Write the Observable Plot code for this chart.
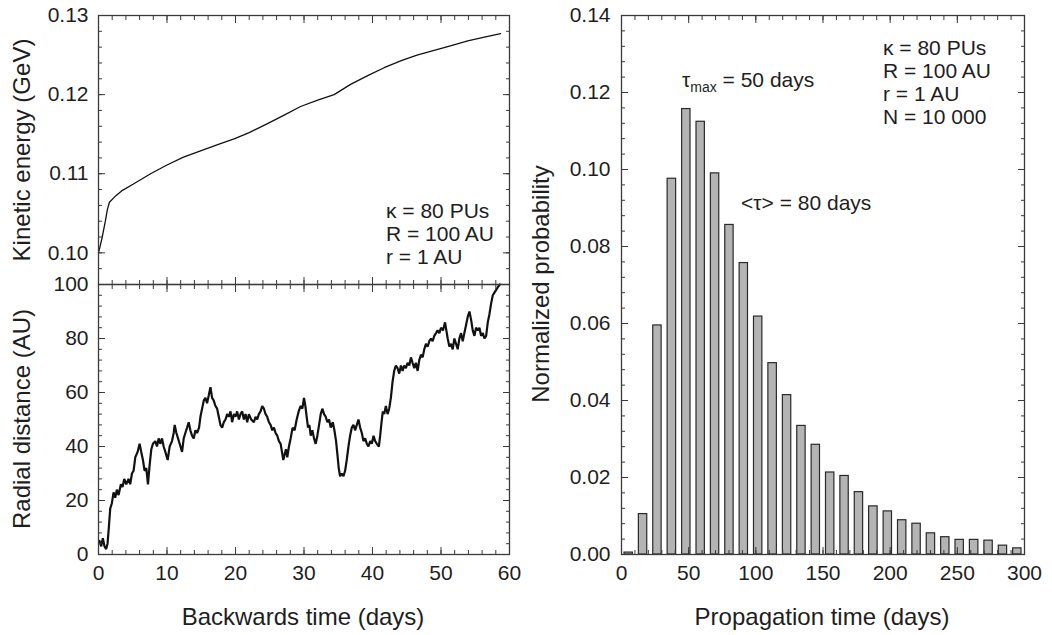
<!DOCTYPE html>
<html><head><meta charset="utf-8">
<script src="https://cdn.jsdelivr.net/npm/d3@7"></script>
<script src="https://cdn.jsdelivr.net/npm/@observablehq/plot@0.6"></script>
<style>
body{margin:0;background:#fff;}
#root{position:relative;width:1052px;height:635px;overflow:hidden;font-family:"Liberation Sans",Arial,sans-serif;color:#1e1e1e;background:#fff;}
.p{position:absolute;}
.t{position:absolute;font-size:24px;white-space:nowrap;line-height:1;}
.rot{transform:translate(-50%,-50%) rotate(-90deg);}
.hc{transform:translate(-50%,-50%);}
.ann{position:absolute;font-size:21px;line-height:23px;white-space:nowrap;}
sub{font-size:14px;vertical-align:-5px;line-height:0;}
</style></head>
<body><div id="root">
<div class="p" id="ke"></div>
<div class="p" id="rad"></div>
<div class="p" id="hist"></div>
<div class="t rot" style="left:22px;top:150px">Kinetic energy (GeV)</div>
<div class="t rot" style="left:22px;top:419px">Radial distance (AU)</div>
<div class="t hc" style="left:303px;top:617px">Backwards time (days)</div>
<div class="t rot" style="left:541px;top:284px">Normalized probability</div>
<div class="t hc" style="left:822px;top:617px">Propagation time (days)</div>
<div class="ann" style="left:386px;top:199px">κ = 80 PUs<br>R = 100 AU<br>r = 1 AU</div>
<div class="ann" style="left:883px;top:36px">κ = 80 PUs<br>R = 100 AU<br>r = 1 AU<br>N = 10 000</div>
<div class="ann" style="left:682px;top:68px">τ<sub>max</sub> = 50 days</div>
<div class="ann" style="left:741px;top:191px">&lt;τ&gt; = 80 days</div>
</div>
<script>
// ---- Data ----
const keDays = [0,0.5,1.0,1.3,1.6,2.5,3.5,5.1,7.6,10,12.4,14.9,17.5,19.8,22,24.6,27.1,29.5,32,34.4,36.8,39.3,41.7,44.2,46.5,49,51.5,53.9,56.5,58.7];
const keGeV = [0.1000,0.1018,0.1040,0.1055,0.1064,0.1072,0.1079,0.1087,0.1100,0.1111,0.1121,0.1129,0.1137,0.1144,0.1152,0.1163,0.1174,0.1185,0.1193,0.1200,0.1213,0.1224,0.1234,0.1243,0.1250,0.1256,0.1262,0.1268,0.1273,0.1277];

const radialDays = [0.15,0.39,0.63,0.88,1.12,1.32,1.51,1.71,1.95,2.20,2.44,2.68,2.93,3.27,3.51,3.76,4.05,4.39,4.63,4.88,5.12,5.37,5.71,6.00,6.24,6.49,6.73,6.98,7.22,7.46,7.71,7.95,8.29,8.54,8.78,9.02,9.27,9.51,9.76,10.10,10.39,10.73,10.98,11.12,11.37,11.61,11.85,12.20,12.44,12.68,12.93,13.17,13.41,13.66,13.90,14.15,14.39,14.68,14.88,15.12,15.37,15.61,15.85,16.10,16.34,16.59,16.83,17.07,17.32,17.56,17.80,18.05,18.29,18.54,18.78,19.02,19.27,19.51,19.76,20.00,20.24,20.49,20.73,20.98,21.22,21.46,21.71,21.95,22.29,22.68,22.93,23.17,23.41,23.66,23.90,24.15,24.39,24.63,24.88,25.12,25.37,25.61,25.85,26.10,26.34,26.59,26.78,26.98,27.17,27.37,27.56,27.80,28.05,28.34,28.63,28.93,29.22,29.51,29.76,30.00,30.20,30.39,30.59,30.78,30.98,31.22,31.46,31.71,31.95,32.20,32.44,32.68,32.93,33.17,33.41,33.66,33.90,34.20,34.44,34.68,34.88,35.07,35.27,35.51,35.76,36.00,36.24,36.49,36.73,36.98,37.22,37.46,37.71,37.95,38.20,38.44,38.68,38.93,39.17,39.41,39.66,39.90,40.15,40.39,40.63,40.93,41.12,41.32,41.51,41.71,41.95,42.20,42.44,42.68,42.93,43.17,43.41,43.66,43.90,44.15,44.39,44.63,44.88,45.12,45.37,45.61,45.85,46.10,46.34,46.59,46.83,47.07,47.32,47.56,47.80,48.05,48.29,48.54,48.78,49.02,49.27,49.51,49.76,50.00,50.29,50.59,50.78,50.98,51.22,51.46,51.71,51.95,52.20,52.44,52.68,52.93,53.17,53.41,53.66,53.90,54.15,54.39,54.63,54.88,55.12,55.37,55.61,55.85,56.10,56.34,56.59,56.83,57.07,57.32,57.56,57.80,58.05,58.29,58.59];
const radialAU = [5,3,6,3,2,4,10,17,19,23,21,24,22,26,25,28,26,28,26,30,31,36,38,41,38,35,31,32,26,33,39,41,42,40,43,41,43,40,38,35,40,42,45,48,45,43,41,38,43,45,47,49,46,44,43,46,45,47,51,54,57,58,56,59,62,58,57,55,54,51,48,47,49,50,52,51,53,49,52,51,53,50,52,53,50,52,49,52,50,49,51,50,52,53,55,54,52,51,49,48,46,47,45,44,42,41,38,35,37,39,36,40,43,47,46,50,53,55,54,58,55,51,47,48,44,46,43,41,44,48,52,54,52,51,49,50,47,49,46,42,37,32,29,30,29,31,35,40,44,47,48,46,48,50,47,45,42,43,41,40,42,41,44,42,41,40,44,49,53,52,55,52,54,58,64,68,70,69,67,70,68,70,69,71,70,73,71,69,71,68,72,74,73,76,78,77,79,80,79,81,82,83,82,84,83,86,83,80,77,78,76,80,78,76,80,82,79,82,85,88,90,87,83,81,84,83,84,81,82,80,81,86,89,93,96,97,98,99,100];

const binStart = [0,10.7,21.4,32.1,42.9,53.6,64.3,75,85.7,96.4,107.1,117.9,128.6,139.3,150,160.7,171.4,182.1,192.9,203.6,214.3,225,235.7,246.4,257.1,267.9,278.6,289.3];
const binEnd   = [10.7,21.4,32.1,42.9,53.6,64.3,75,85.7,96.4,107.1,117.9,128.6,139.3,150,160.7,171.4,182.1,192.9,203.6,214.3,225,235.7,246.4,257.1,267.9,278.6,289.3,300];
const probability = [0.0005,0.0105,0.0595,0.0976,0.1157,0.1124,0.0990,0.0856,0.0757,0.0618,0.0497,0.0414,0.0334,0.0285,0.0213,0.0204,0.0162,0.0125,0.0112,0.0089,0.0080,0.0055,0.0045,0.0038,0.0038,0.0036,0.0023,0.0016];

const keTicks = [0.10,0.11,0.12,0.13];
const radTicks = [0,20,40,60,80,100];
const dayTicks = [0,10,20,30,40,50,60];
const probTicks = [0,0.02,0.04,0.06,0.08,0.10,0.12,0.14];
const propTicks = [0,50,100,150,200,250,300];

// ---- helpers ----
const svgStyle = "background:transparent;overflow:visible;font-family:'Liberation Sans',Arial,sans-serif;font-size:21px;color:#1e1e1e;";
const AX = "#3a3a3a";
function boxTicks(axis, major, minor, majorLen=7, minorLen=4) {
  const mk = axis === "x" ? Plot.axisX : Plot.axisY;
  const a1 = axis === "x" ? "bottom" : "left";
  const a2 = axis === "x" ? "top" : "right";
  return [
    mk(major, {anchor: a1, tickSize: -majorLen, fill: "none", stroke: AX}),
    mk(major, {anchor: a2, tickSize: -majorLen, fill: "none", stroke: AX}),
    mk(minor, {anchor: a1, tickSize: -minorLen, fill: "none", stroke: AX}),
    mk(minor, {anchor: a2, tickSize: -minorLen, fill: "none", stroke: AX})
  ];
}

// ---- Kinetic energy panel ----
const keData = keDays.map((d, i) => ({t: d, e: keGeV[i]}));
const ke = Plot.plot({
  width: 520, height: 290,
  marginLeft: 98, marginRight: 11, marginTop: 15, marginBottom: 6,
  style: svgStyle,
  x: {domain: [0, 60]},
  y: {domain: [0.096, 0.13]},
  marks: [
    Plot.line(keData, {x: "t", y: "e", stroke: "#111", strokeWidth: 1.3}),
    ...boxTicks("x", dayTicks, d3.range(0, 60.01, 2)),
    ...boxTicks("y", keTicks, d3.range(0.096, 0.1301, 0.002)),
    Plot.axisY(keTicks, {anchor: "left", tickSize: 0, tickPadding: 10, tickFormat: d3.format(".2f"), label: null, fill: "#1e1e1e"}),
    Plot.frame({stroke: AX, strokeWidth: 1.3})
  ]
});
document.getElementById("ke").style.cssText = "left:0;top:0";
document.getElementById("ke").append(ke);

// ---- Radial distance panel ----
const radData = radialDays.map((d, i) => ({t: d, r: radialAU[i]}));
const rad = Plot.plot({
  width: 520, height: 355,
  marginLeft: 98, marginRight: 11, marginTop: 4, marginBottom: 81,
  style: svgStyle,
  x: {domain: [0, 60]},
  y: {domain: [0, 100]},
  marks: [
    Plot.line(radData, {x: "t", y: "r", stroke: "#111", strokeWidth: 2.2, strokeLinejoin: "miter"}),
    ...boxTicks("x", dayTicks, d3.range(0, 60.01, 2)),
    ...boxTicks("y", radTicks, d3.range(0, 100.01, 4)),
    Plot.axisY(radTicks, {anchor: "left", tickSize: 0, tickPadding: 10, label: null, fill: "#1e1e1e"}),
    Plot.axisX(dayTicks, {anchor: "bottom", tickSize: 0, tickPadding: 11, label: null, fill: "#1e1e1e"}),
    Plot.frame({stroke: AX, strokeWidth: 1.3})
  ]
});
document.getElementById("rad").style.cssText = "left:0;top:280px";
document.getElementById("rad").append(rad);

// ---- Histogram panel ----
const histData = probability.map((p, i) => ({x1: binStart[i], x2: binEnd[i], p}));
const hist = Plot.plot({
  width: 532, height: 635,
  marginLeft: 101, marginRight: 28, marginTop: 15, marginBottom: 81,
  style: svgStyle,
  x: {domain: [0, 300]},
  y: {domain: [0, 0.14]},
  marks: [
    Plot.rectY(histData, {x1: "x1", x2: "x2", y: "p", insetLeft: 3, insetRight: 3, fill: "#b4b4b4", stroke: "#2a2a2a", strokeWidth: 1.2}),
    ...boxTicks("x", propTicks, d3.range(0, 300.01, 10)),
    ...boxTicks("y", probTicks, d3.range(0, 0.14001, 0.004)),
    Plot.axisY(probTicks, {anchor: "left", tickSize: 0, tickPadding: 11, tickFormat: d3.format(".2f"), label: null, fill: "#1e1e1e"}),
    Plot.axisX(propTicks, {anchor: "bottom", tickSize: 0, tickPadding: 11, label: null, fill: "#1e1e1e"}),
    Plot.frame({stroke: AX, strokeWidth: 1.3})
  ]
});
document.getElementById("hist").style.cssText = "left:520px;top:0";
document.getElementById("hist").append(hist);
</script>
</body></html>
